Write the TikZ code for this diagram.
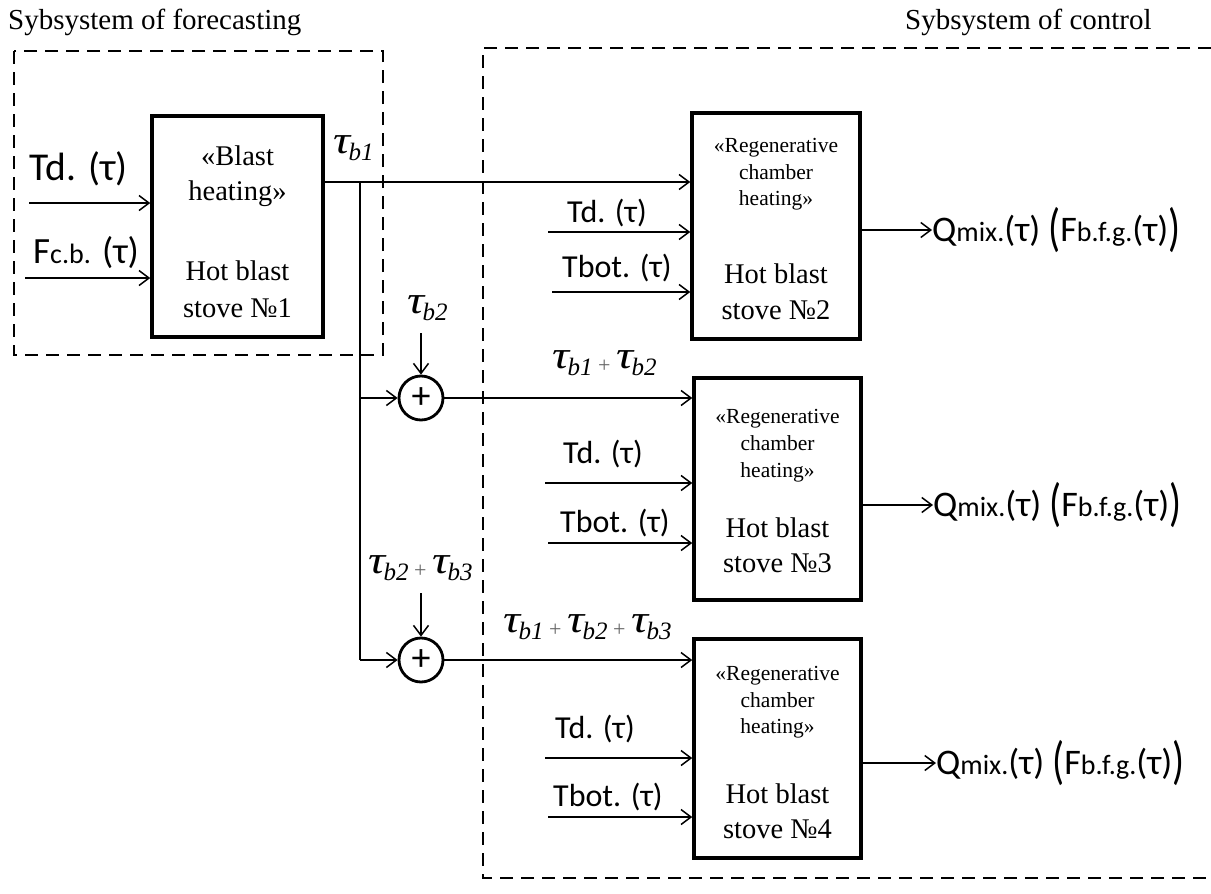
\documentclass[tikz,border=0pt]{standalone}
\usepackage{fontspec}
\setmainfont{Liberation Serif}
\newfontfamily\carl{Carlito}
\usetikzlibrary{arrows.meta}
\newcommand{\fs}[1]{\fontsize{#1}{#1}\selectfont}
\newcommand{\tb}[1]{{\fs{39}\itshape\scalebox{1.22}[1]{τ}}\kern-1.5pt{\fs{25}\itshape\raisebox{-7pt}{b#1}}}
\newcommand{\pl}{\kern5.5pt{\fs{22}\color{black!60}\raisebox{-4pt}{+}}\kern5.5pt}
\newcommand{\bigp}[1]{\raisebox{-4pt}{\scalebox{1.1}[1.45]{#1}}}
\newcommand{\outlab}{{\carl\fs{36}Q{\fs{28}mix.}(τ) \bigp{(}F{\fs{28}b.f.g.}(τ)\bigp{)}}}
\begin{document}
\begin{tikzpicture}[x=1pt,y=-1pt,
  dsh/.style={line width=1.8pt, dash pattern=on 13pt off 8pt},
  stovebox/.style={draw, rectangle, line width=3.5pt, inner sep=0pt},
  arr/.style={line width=1.5pt, -{Straight Barb[length=10pt,width=15pt]}},
  sumc/.style={circle, draw, line width=2.8pt, minimum size=44pt, inner sep=0pt, font=\carl\fs{38}},
  ser/.style={font=\fs{28.5}, inner sep=0pt, anchor=base},
  sml/.style={font=\fs{21.5}, inner sep=0pt, anchor=base},
  lab/.style={font=\carl\fs{32}, inner sep=0pt, anchor=base west},
  tit/.style={font=\fs{29}, inner sep=0pt, anchor=base west},
  tau/.style={inner sep=0pt, anchor=base west},
  outl/.style={inner sep=0pt, anchor=base west}]
\useasboundingbox (0,0) rectangle (1211,894);

% titles
\node[tit] (t1) at (8,29) {Sybsystem of forecasting};
\node[tit] (t2) at (905,30) {Sybsystem of control};

% subsystem frames
\draw[dsh] (14,51) rectangle (383,355);
\draw[dsh] (1211,48) -- (483,48) -- (483,878) -- (1211,878);

% stove 1
\node[stovebox, minimum width=171pt, minimum height=221pt] (s1) at (237.5,226.5) {};
\node[ser] (s1a) at (237.5,165) {«Blast};
\node[ser] (s1b) at (237.5,200) {heating»};
\node[ser] (s1c) at (237.5,280) {Hot blast};
\node[ser] (s1d) at (237.5,317) {stove №1};

% stove 2
\node[stovebox, minimum width=168pt, minimum height=226pt] (s2) at (776,226) {};
\node[sml] (s2a) at (776,152) {«Regenerative};
\node[sml] (s2b) at (776,179) {chamber};
\node[sml] (s2c) at (776,205) {heating»};
\node[ser] (s2d) at (776,283) {Hot blast};
\node[ser] (s2e) at (776,319) {stove №2};

% stove 3
\node[stovebox, minimum width=167pt, minimum height=222pt] (s3) at (777.5,489) {};
\node[sml] (s3a) at (777.5,423) {«Regenerative};
\node[sml] (s3b) at (777.5,450) {chamber};
\node[sml] (s3c) at (777.5,477) {heating»};
\node[ser] (s3d) at (777.5,537) {Hot blast};
\node[ser] (s3e) at (777.5,572) {stove №3};

% stove 4
\node[stovebox, minimum width=167pt, minimum height=219pt] (s4) at (777.5,748.5) {};
\node[sml] (s4a) at (777.5,680) {«Regenerative};
\node[sml] (s4b) at (777.5,707) {chamber};
\node[sml] (s4c) at (777.5,733) {heating»};
\node[ser] (s4d) at (777.5,803) {Hot blast};
\node[ser] (s4e) at (777.5,838) {stove №4};

% stove 1 inputs
\node[lab, font=\carl\fs{39.5}] (l1a) at (29,180) {Td. (τ)};
\node[lab, font=\carl\fs{37}] (l1b) at (33,263) {F{\fs{28}c.b.} (τ)};
\coordinate (i1a) at (29,203);
\coordinate (i1b) at (25,278);
\draw[arr] (i1a) -- (s1.west |- i1a);
\draw[arr] (i1b) -- (s1.west |- i1b);

% stove 2 inputs
\node[lab] (l2a) at (567,222) {Td. (τ)};
\node[lab] (l2b) at (562,277) {Tbot. (τ)};
\coordinate (i2a) at (548,232);
\coordinate (i2b) at (552,292);
\draw[arr] (i2a) -- (s2.west |- i2a);
\draw[arr] (i2b) -- (s2.west |- i2b);

% stove 3 inputs
\node[lab] (l3a) at (563,463) {Td. (τ)};
\node[lab] (l3b) at (560,532) {Tbot. (τ)};
\coordinate (i3a) at (545,483);
\coordinate (i3b) at (548,543);
\draw[arr] (i3a) -- (s3.west |- i3a);
\draw[arr] (i3b) -- (s3.west |- i3b);

% stove 4 inputs
\node[lab] (l4a) at (555,738) {Td. (τ)};
\node[lab] (l4b) at (553,806) {Tbot. (τ)};
\coordinate (i4a) at (545,758);
\coordinate (i4b) at (548,817);
\draw[arr] (i4a) -- (s4.west |- i4a);
\draw[arr] (i4b) -- (s4.west |- i4b);

% outputs
\node[outl] (o2) at (932,241) {\outlab};
\node[outl] (o3) at (933,516) {\outlab};
\node[outl] (o4) at (936,774) {\outlab};
\draw[arr] (s2.east |- 0,230) -- (o2.west |- 0,230);
\draw[arr] (s3.east |- 0,505) -- (o3.west |- 0,505);
\draw[arr] (s4.east |- 0,763) -- (o4.west |- 0,763);

% timing branch
\coordinate (br0) at (360,182);
\coordinate (br1) at (360,398);
\coordinate (br2) at (360,660);
\node[sumc] (sum1) at (421,398) {+};
\node[sumc] (sum2) at (421,660) {+};
\draw[arr] (s1.east |- br0) -- (s2.west |- br0);
\draw[line width=1.5pt] (br0) -- (br2);
\draw[arr] (br1) -- (sum1.west);
\draw[arr] (br2) -- (sum2.west);
\draw[arr] (sum1.east) -- (s3.west |- sum1);
\draw[arr] (sum2.east) -- (s4.west |- sum2);

% timing labels
\node[tau] (tb1) at (333,153) {\tb{1}};
\node[tau] (tb2) at (407,313) {\tb{2}};
\node[tau] (tb12) at (552,368) {\tb{1}\pl\tb{2}};
\node[tau] (tb23) at (368,573) {\tb{2}\pl\tb{3}};
\node[tau] (tb123) at (503,632) {\tb{1}\pl\tb{2}\pl\tb{3}};
\coordinate (a1) at (421,333);
\coordinate (a2) at (421,593);
\draw[arr] (a1) -- (sum1.north);
\draw[arr] (a2) -- (sum2.north);
\end{tikzpicture}
\end{document}
